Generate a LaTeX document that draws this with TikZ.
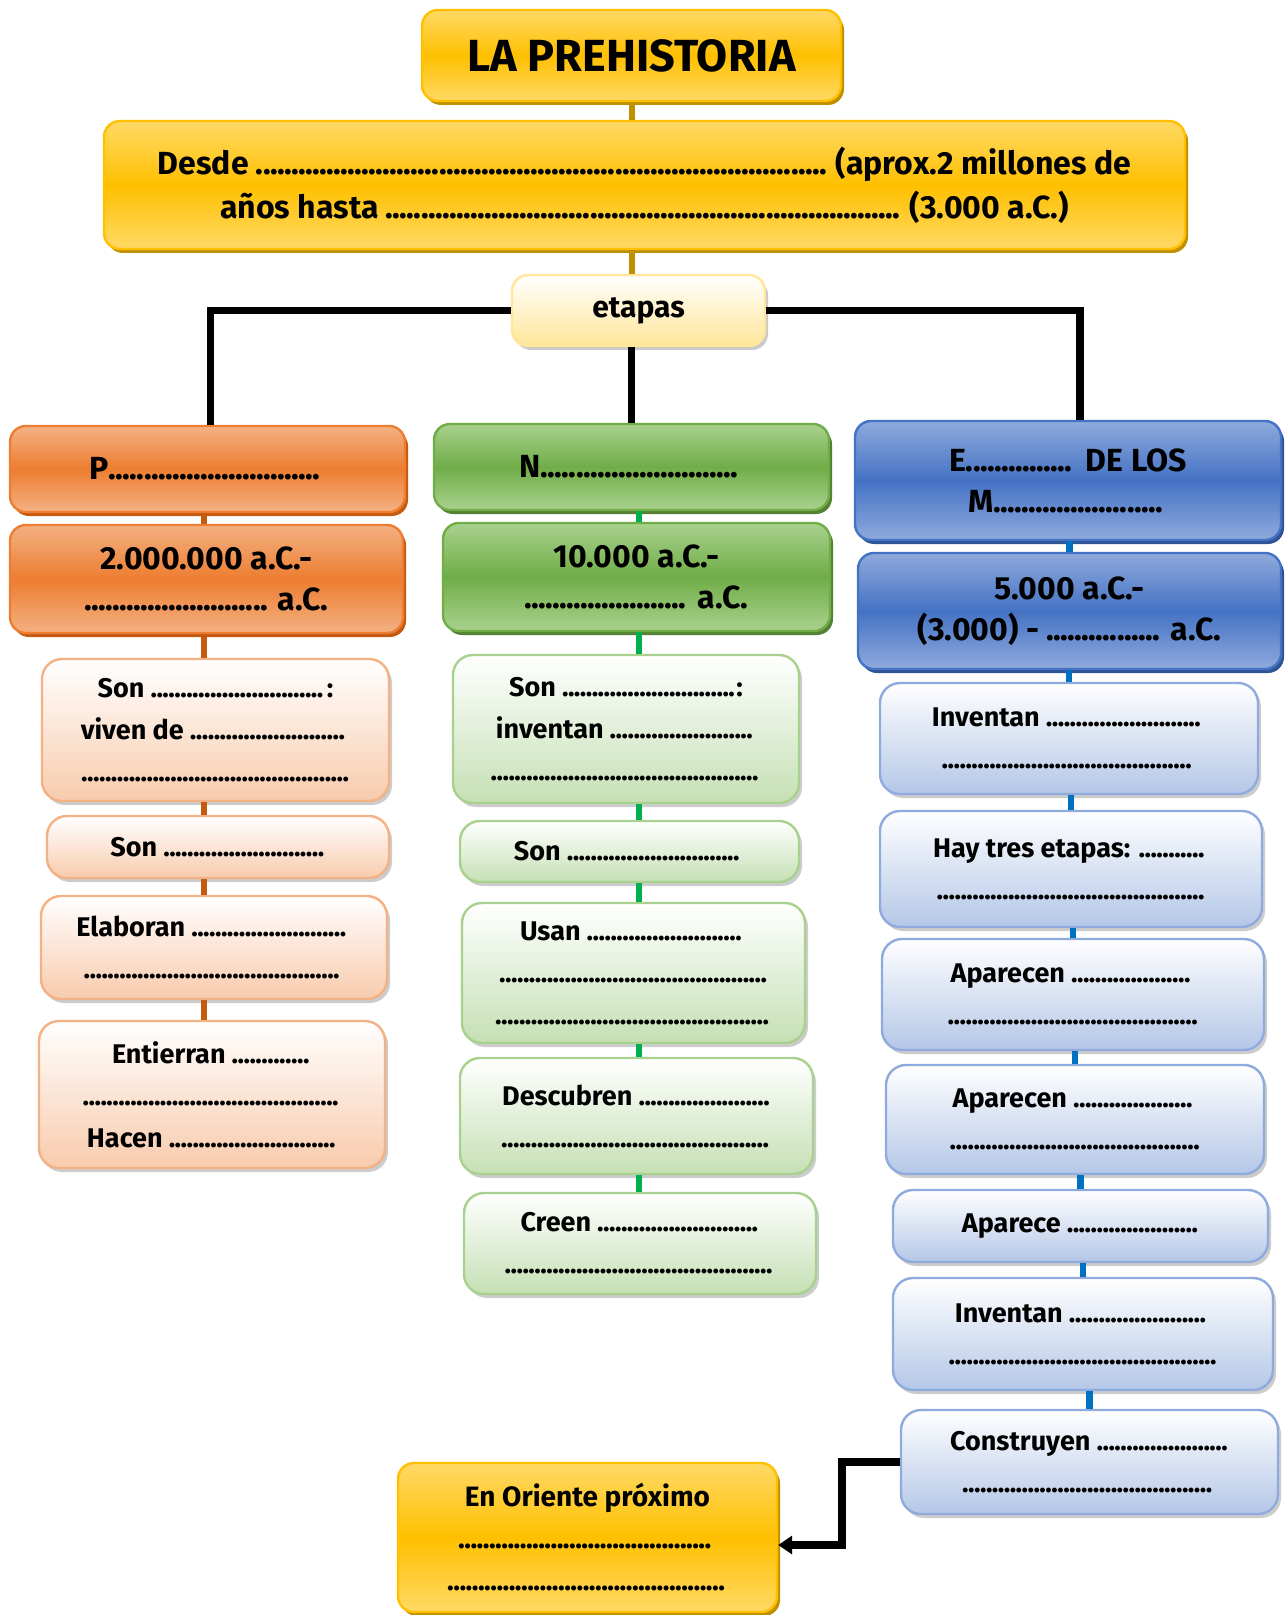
\documentclass[tikz,border=0pt]{standalone}
\usepackage{fontspec}
\setmainfont{Fira Sans}
\usetikzlibrary{shadows,arrows.meta}

% colores
\definecolor{ylwEdge}{HTML}{FFD966}
\definecolor{ylwMid}{HTML}{FFC000}
\definecolor{ylwShd}{HTML}{BF9000}
\definecolor{ylwLight}{HTML}{FFE699}
\definecolor{orgEdge}{HTML}{F4B183}
\definecolor{orgMid}{HTML}{ED7D31}
\definecolor{orgShd}{HTML}{C55A11}
\definecolor{orgLight}{HTML}{F8CBAD}
\definecolor{grnEdge}{HTML}{A9D18E}
\definecolor{grnMid}{HTML}{70AD47}
\definecolor{grnShd}{HTML}{548235}
\definecolor{grnLight}{HTML}{C5E0B4}
\definecolor{grnLine}{HTML}{00B050}
\definecolor{bluEdge}{HTML}{8FAADC}
\definecolor{bluMid}{HTML}{4472C4}
\definecolor{bluShd}{HTML}{2F5597}
\definecolor{bluLight}{HTML}{B4C7E7}
\definecolor{bluLine}{HTML}{0070C0}

% linea de puntos
\newcommand\dl[1]{\hbox to #1{\leaders\hbox to 0.22em{\hss.\hss}\hfill}}

\tikzset{
  box/.style={rounded corners=8pt, line width=1.2pt, align=center, inner sep=1pt, text=black},
  fontTitle/.style={font=\bfseries\fontsize{22.5}{26}\selectfont},
  fontDesde/.style={font=\bfseries\fontsize{16}{22}\selectfont},
  fontHead/.style={font=\bfseries\fontsize{16}{20.5}\selectfont},
  fontText/.style={font=\bfseries\fontsize{13.5}{21}\selectfont},
  ybox/.style={box, draw=ylwMid, top color=ylwEdge, bottom color=ylwEdge, middle color=ylwMid,
    drop shadow={shadow xshift=1.5pt, shadow yshift=-2pt, fill=ylwShd, opacity=1}},
  etbox/.style={box, draw=ylwLight, top color=white, bottom color=ylwLight,
    drop shadow={shadow xshift=1.5pt, shadow yshift=-2pt, fill=black!35, opacity=0.6}},
  obox/.style={box, draw=orgMid, top color=orgEdge, bottom color=orgEdge, middle color=orgMid,
    drop shadow={shadow xshift=1.5pt, shadow yshift=-2pt, fill=orgShd, opacity=1}},
  olbox/.style={box, rounded corners=10pt, draw=orgEdge, top color=white, bottom color=orgLight,
    drop shadow={shadow xshift=1.5pt, shadow yshift=-2pt, fill=black!40, opacity=0.5}},
  gbox/.style={box, draw=grnMid, top color=grnEdge, bottom color=grnEdge, middle color=grnMid,
    drop shadow={shadow xshift=1.5pt, shadow yshift=-2pt, fill=grnShd, opacity=1}},
  glbox/.style={box, rounded corners=10pt, draw=grnEdge, top color=white, bottom color=grnLight,
    drop shadow={shadow xshift=1.5pt, shadow yshift=-2pt, fill=black!40, opacity=0.5}},
  bbox/.style={box, draw=bluMid, top color=bluEdge, bottom color=bluEdge, middle color=bluMid,
    drop shadow={shadow xshift=1.5pt, shadow yshift=-2pt, fill=bluShd, opacity=1}},
  blbox/.style={box, rounded corners=10pt, draw=bluEdge, top color=white, bottom color=bluLight,
    drop shadow={shadow xshift=1.5pt, shadow yshift=-2pt, fill=black!40, opacity=0.5}},
  ylink/.style={draw=ylwShd, line width=3pt},
  olink/.style={draw=orgShd, line width=3.2pt},
  glink/.style={draw=grnLine, line width=3.2pt},
  blink/.style={draw=bluLine, line width=3.2pt},
  klink/.style={draw=black, line width=3.6pt},
}

\begin{document}
\begin{tikzpicture}[x=0.5pt, y=-0.5pt]
  \useasboundingbox (0,0) rectangle (1285,1615);

  % cabecera
  \node[ybox, fontTitle, minimum width=209.5pt, minimum height=45.5pt] (titulo) at (631.5,55.5) {LA PREHISTORIA};
  \node[ybox, fontDesde, minimum width=540.5pt, minimum height=64pt] (desde) at (644.5,185)
    {Desde \dl{286pt} (aprox.2 millones de\\ años hasta \dl{258pt} (3.000 a.C.)};
  \node[etbox, fontText, font=\bfseries\fontsize{15}{18}\selectfont, minimum width=126.5pt, minimum height=35.5pt] (etapas) at (638.5,310.5) {etapas};

  % Paleolitico
  \node[obox, fontHead, minimum width=197.5pt, minimum height=43pt] (pal) at (207.5,469) {P\dl{108pt}};
  \node[obox, fontHead, minimum width=196.5pt, minimum height=54pt] (palfecha) at (206.5,579)
    {2.000.000 a.C.-\\ \dl{93pt} a.C.};
  \node[olbox, fontText, minimum width=173.5pt, minimum height=71pt] (pal1) at (215.5,730)
    {Son \dl{88pt}:\\ viven de \dl{80pt}\\ \dl{134pt}};
  \node[olbox, fontText, minimum width=171pt, minimum height=31pt] (pal2) at (218,847)
    {Son \dl{81pt}};
  \node[olbox, fontText, minimum width=173pt, minimum height=51.5pt] (pal3) at (214,947.5)
    {Elaboran \dl{80pt}\\ \dl{130pt}};
  \node[olbox, fontText, minimum width=173pt, minimum height=73.5pt] (pal4) at (212,1094.5)
    {Entierran \dl{40pt}\\ \dl{129pt}\\ Hacen \dl{84pt}};

  % Neolitico
  \node[gbox, fontHead, minimum width=197.5pt, minimum height=43pt] (neo) at (631.5,467) {N\dl{101pt}};
  \node[gbox, fontHead, minimum width=193.5pt, minimum height=54pt] (neofecha) at (636.5,577)
    {10.000 a.C.-\\ \dl{83pt} a.C.};
  \node[glbox, fontText, minimum width=173pt, minimum height=74pt] (neo1) at (626,729)
    {Son \dl{87pt}:\\ inventan \dl{73pt}\\ \dl{135pt}};
  \node[glbox, fontText, minimum width=169.5pt, minimum height=30.5pt] (neo2) at (629.5,851.5)
    {Son \dl{89pt}};
  \node[glbox, fontText, minimum width=171.5pt, minimum height=70pt] (neo3) at (633.5,973)
    {Usan \dl{80pt}\\ \dl{134pt}\\ \dl{138pt}};
  \node[glbox, fontText, minimum width=176.5pt, minimum height=58pt] (neo4) at (636.5,1116)
    {Descubren \dl{66pt}\\ \dl{135pt}};
  \node[glbox, fontText, minimum width=176pt, minimum height=50.5pt] (neo5) at (640,1243.5)
    {Creen \dl{81pt}\\ \dl{135pt}};

  % Edad de los Metales
  \node[bbox, fontHead, minimum width=213pt, minimum height=59.5pt] (met) at (1068,480.5)
    {E\dl{56pt} DE LOS\\ M\dl{87pt}};
  \node[bbox, fontHead, minimum width=211.5pt, minimum height=58pt] (metfecha) at (1069.5,611)
    {5.000 a.C.-\\ (3.000) - \dl{58pt} a.C.};
  \node[blbox, fontText, minimum width=189pt, minimum height=55.5pt] (met1) at (1069,738.5)
    {Inventan \dl{80pt}\\ \dl{127pt}};
  \node[blbox, fontText, minimum width=191pt, minimum height=58pt] (met2) at (1071,869)
    {Hay tres etapas: \dl{35pt}\\ \dl{134pt}};
  \node[blbox, fontText, minimum width=191pt, minimum height=55.5pt] (met3) at (1073,994.5)
    {Aparecen \dl{62pt}\\ \dl{125pt}};
  \node[blbox, fontText, minimum width=189pt, minimum height=54.5pt] (met4) at (1075,1119.5)
    {Aparecen \dl{62pt}\\ \dl{125pt}};
  \node[blbox, fontText, minimum width=187.5pt, minimum height=36pt] (met5) at (1080.5,1226)
    {Aparece \dl{66pt}};
  \node[blbox, fontText, minimum width=190pt, minimum height=56pt] (met6) at (1083,1334)
    {Inventan \dl{71pt}\\ \dl{134pt}};
  \node[blbox, fontText, minimum width=188.5pt, minimum height=52pt] (met7) at (1089.5,1462)
    {Construyen \dl{66pt}\\ \dl{127pt}};

  % Oriente proximo
  \node[ybox, fontText, font=\bfseries\fontsize{14}{21}\selectfont, minimum width=189.5pt, minimum height=74.5pt] (oriente) at (587.5,1537.5)
    {En Oriente próximo\\ \dl{129pt}\\ \dl{140pt}};

  % ejes verticales de cada columna
  \coordinate (ejeO) at (204,0);
  \coordinate (ejeN) at (639,0);

  % conectores
  \draw[ylink] (titulo.south) -- (titulo.south |- desde.north);
  \draw[ylink] (titulo.south |- desde.south) -- (titulo.south |- etapas.north);

  \draw[klink] (etapas.west) -| ([xshift=1.5pt]pal.north);
  \draw[klink] (etapas.east) -| ([xshift=6pt]met.north);
  \draw[klink] (neo.north) -- (neo.north |- etapas.south);

  \draw[olink] (pal.south -| ejeO) -- (palfecha.north -| ejeO);
  \draw[olink] (palfecha.south -| ejeO) -- (pal1.north -| ejeO);
  \draw[olink] (pal1.south -| ejeO) -- (pal2.north -| ejeO);
  \draw[olink] (pal2.south -| ejeO) -- (pal3.north -| ejeO);
  \draw[olink] (pal3.south -| ejeO) -- (pal4.north -| ejeO);

  \draw[glink] (neo.south -| ejeN) -- (neofecha.north -| ejeN);
  \draw[glink] (neofecha.south -| ejeN) -- (neo1.north -| ejeN);
  \draw[glink] (neo1.south -| ejeN) -- (neo2.north -| ejeN);
  \draw[glink] (neo2.south -| ejeN) -- (neo3.north -| ejeN);
  \draw[glink] (neo3.south -| ejeN) -- (neo4.north -| ejeN);
  \draw[glink] (neo4.south -| ejeN) -- (neo5.north -| ejeN);

  \draw[blink] (metfecha.north) -- (metfecha.north |- met.south);
  \draw[blink] (met1.north) -- (met1.north |- metfecha.south);
  \draw[blink] (met2.north) -- (met2.north |- met1.south);
  \draw[blink] (met3.north) -- (met3.north |- met2.south);
  \draw[blink] (met4.north) -- (met4.north |- met3.south);
  \draw[blink] (met5.north) -- (met5.north |- met4.south);
  \draw[blink] (met6.north) -- (met6.north |- met5.south);
  \draw[blink] (met7.north) -- (met7.north |- met6.south);

  \coordinate (codo) at (842,1545);
  \draw[klink, -{Triangle[length=7pt, width=9pt]}] (met7.west) -| (codo) -- (codo -| oriente.east);
\end{tikzpicture}
\end{document}
